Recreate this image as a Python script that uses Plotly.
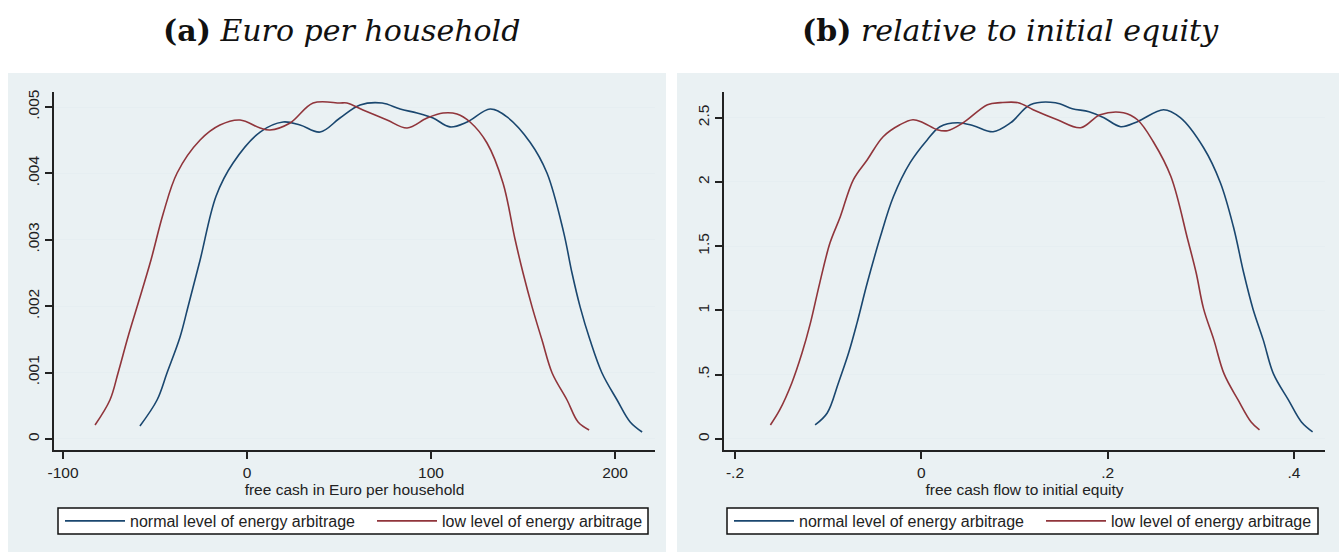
import plotly.graph_objects as go

# ---------------- data ----------------
# Panel (a): Euro per household
a_normal_x = [-58.2, -48.9, -43.5, -36.4, -32.1, -25.5, -16.8, -7.6, 7.1, 19.6, 28.8, 39.7,
              50.5, 61.4, 73.4, 83.2, 92.4, 101.1, 110.3, 119.6, 132.1, 141.3, 153.8, 163.0,
              172.0, 176.6, 181.0, 186.4, 192.9, 201.1, 208.2, 214.7]
a_normal_y = [0.000196, 0.000587, 0.000994, 0.001536, 0.001988, 0.002696, 0.003660, 0.004157,
              0.004623, 0.004774, 0.004729, 0.004623, 0.004834, 0.005030, 0.005060, 0.004970,
              0.004910, 0.004834, 0.004700, 0.004774, 0.004970, 0.004850, 0.004470, 0.004006,
              0.003120, 0.002500, 0.001990, 0.001490, 0.000994, 0.000587, 0.000256, 0.000105]
a_low_x = [-82.6, -74.5, -70.1, -64.7, -59.8, -52.2, -45.5, -38.0, -25.5, -14.7, -3.8, 7.1,
           12.5, 23.4, 35.9, 50.5, 54.3, 63.0, 76.1, 87.0, 97.8, 106.5, 114.1, 121.2, 130.4,
           139.1, 145.7, 150.0, 154.9, 160.3, 165.8, 173.9, 179.9, 185.9]
a_low_y = [0.000210, 0.000587, 0.000994, 0.001536, 0.001988, 0.002696, 0.003400, 0.004006,
           0.004503, 0.004729, 0.004804, 0.004684, 0.004654, 0.004759, 0.005060, 0.005060,
           0.005060, 0.004955, 0.004804, 0.004684, 0.004834, 0.004910, 0.004895, 0.004774,
           0.004458, 0.003855, 0.003000, 0.002500, 0.001990, 0.001490, 0.000994, 0.000587,
           0.000256, 0.000136]

# Panel (b): relative to initial equity
b_normal_x = [-0.114, -0.101, -0.089, -0.078, -0.069, -0.058, -0.044, -0.030, -0.012, 0.0065,
              0.020, 0.039, 0.056, 0.077, 0.096, 0.117, 0.144, 0.162, 0.180, 0.196, 0.214,
              0.232, 0.260, 0.278, 0.303, 0.321, 0.335, 0.346, 0.356, 0.367, 0.378, 0.394,
              0.408, 0.420]
b_normal_y = [0.109, 0.202, 0.436, 0.670, 0.903, 1.215, 1.573, 1.885, 2.150, 2.329, 2.430,
              2.461, 2.438, 2.391, 2.461, 2.601, 2.617, 2.570, 2.547, 2.500, 2.430, 2.469,
              2.562, 2.500, 2.266, 1.994, 1.651, 1.293, 1.012, 0.771, 0.506, 0.304, 0.132,
              0.055]
b_low_x = [-0.162, -0.152, -0.139, -0.128, -0.119, -0.109, -0.098, -0.087, -0.073, -0.058,
           -0.041, -0.023, -0.009, 0.002, 0.017, 0.028, 0.045, 0.071, 0.085, 0.104, 0.120,
           0.146, 0.171, 0.192, 0.217, 0.232, 0.249, 0.268, 0.286, 0.295, 0.303, 0.314,
           0.325, 0.340, 0.354, 0.363]
b_low_y = [0.109, 0.226, 0.436, 0.670, 0.903, 1.215, 1.526, 1.729, 2.017, 2.173, 2.352,
           2.445, 2.484, 2.461, 2.407, 2.399, 2.461, 2.601, 2.617, 2.617, 2.562, 2.484,
           2.422, 2.523, 2.539, 2.484, 2.313, 2.040, 1.550, 1.293, 1.012, 0.771, 0.506,
           0.304, 0.132, 0.070]

series_names = ["normal level of energy arbitrage", "low level of energy arbitrage"]
a_xticks = [-100, 0, 100, 200]
a_xticklabels = ["-100", "0", "100", "200"]
a_yticks = [0, 0.001, 0.002, 0.003, 0.004, 0.005]
a_yticklabels = ["0", ".001", ".002", ".003", ".004", ".005"]
b_xticks = [-0.2, 0, 0.2, 0.4]
b_xticklabels = ["-.2", "0", ".2", ".4"]
b_yticks = [0, 0.5, 1, 1.5, 2, 2.5]
b_yticklabels = ["0", ".5", "1", "1.5", "2", "2.5"]
titles = ["<b>(a)</b> <i>Euro per household</i>", "<b>(b)</b> <i>relative to initial equity</i>"]
xtitles = ["free cash in Euro per household", "free cash flow to initial equity"]

# ---------------- styling ----------------
W, H = 1339, 552
NAVY = "#1a476f"
MAROON = "#90353b"
BG = "#eaf1f3"
GRID = "#e6eef1"
AX = "#222222"

def px(x):
    return x / W

def py(y):
    return (H - y) / H

fig = go.Figure()

line_w = 1.6
sm = 1.0
fig.add_trace(go.Scatter(x=a_normal_x, y=a_normal_y, mode="lines", name=series_names[0],
                         line=dict(color=NAVY, width=line_w, shape="spline", smoothing=sm),
                         xaxis="x", yaxis="y", legend="legend"))
fig.add_trace(go.Scatter(x=a_low_x, y=a_low_y, mode="lines", name=series_names[1],
                         line=dict(color=MAROON, width=line_w, shape="spline", smoothing=sm),
                         xaxis="x", yaxis="y", legend="legend"))
fig.add_trace(go.Scatter(x=b_normal_x, y=b_normal_y, mode="lines", name=series_names[0],
                         line=dict(color=NAVY, width=line_w, shape="spline", smoothing=sm),
                         xaxis="x2", yaxis="y2", legend="legend2"))
fig.add_trace(go.Scatter(x=b_low_x, y=b_low_y, mode="lines", name=series_names[1],
                         line=dict(color=MAROON, width=line_w, shape="spline", smoothing=sm),
                         xaxis="x2", yaxis="y2", legend="legend2"))

tick_font = dict(family="Liberation Sans, Arial, sans-serif", size=15.5, color="#222222")
title_ax_font = dict(family="Liberation Sans, Arial, sans-serif", size=15.5, color="#222222")
ydom = [py(450), py(92)]

def xaxis(domain, rng, tv, tt, title, anchor):
    return dict(domain=domain, range=rng, tickvals=tv, ticktext=tt, showgrid=False,
                zeroline=False, showline=True, linecolor=AX, linewidth=2,
                ticks="outside", ticklen=7, tickwidth=1.5, tickcolor=AX,
                tickfont=tick_font, anchor=anchor,
                title=dict(text=title, font=title_ax_font, standoff=0))

def yaxis(rng, tv, tt, anchor):
    return dict(domain=ydom, range=rng, tickvals=tv, ticktext=tt, showgrid=True,
                gridcolor=GRID, gridwidth=1.2, zeroline=False, showline=True,
                linecolor=AX, linewidth=2, ticks="outside", ticklen=7, tickwidth=1.5,
                tickcolor=AX, tickfont=tick_font, tickangle=-90, anchor=anchor)

layout = dict(
    width=W, height=H, margin=dict(l=0, r=0, t=0, b=0, autoexpand=False),
    paper_bgcolor="white", plot_bgcolor="white", showlegend=True,
    xaxis=xaxis([px(54), px(655)], [-104.9, 221.7], a_xticks, a_xticklabels, xtitles[0], "y"),
    yaxis=yaxis([-0.000166, 0.005226], a_yticks, a_yticklabels, "x"),
    xaxis2=xaxis([px(724), px(1325)], [-0.2118, 0.4333], b_xticks, b_xticklabels, xtitles[1], "y2"),
    yaxis2=yaxis([-0.086, 2.70], b_yticks, b_yticklabels, "x2"),
)

legend_font = dict(family="Liberation Sans, Arial, sans-serif", size=16, color="#222222")
layout["legend"] = dict(orientation="h", x=px(60), y=py(521), xanchor="left", yanchor="middle",
                        bgcolor="rgba(0,0,0,0)", borderwidth=0, font=legend_font,
                        entrywidth=237, entrywidthmode="pixels", itemwidth=60)
layout["legend2"] = dict(orientation="h", x=px(729), y=py(521), xanchor="left", yanchor="middle",
                         bgcolor="rgba(0,0,0,0)", borderwidth=0, font=legend_font,
                         entrywidth=237, entrywidthmode="pixels", itemwidth=60)

shapes = []
# grey graph regions
for x0, x1 in [(8, 666), (677, 1339)]:
    shapes.append(dict(type="rect", xref="paper", yref="paper", x0=px(x0), x1=px(x1),
                       y0=py(552), y1=py(73), fillcolor=BG, line=dict(width=0), layer="below"))
# legend boxes
for x0, x1 in [(58, 648), (727, 1318)]:
    shapes.append(dict(type="rect", xref="paper", yref="paper", x0=px(x0), x1=px(x1),
                       y0=py(534), y1=py(508), fillcolor="white",
                       line=dict(color="#111111", width=1.5), layer="below"))
layout["shapes"] = shapes

title_font = dict(family="DejaVu Serif, Liberation Serif, serif", size=30, color="#111111")
layout["annotations"] = [
    dict(text=titles[0], x=px(341), y=py(30), xref="paper", yref="paper",
         showarrow=False, font=title_font, xanchor="center", yanchor="middle"),
    dict(text=titles[1], x=px(1011), y=py(30), xref="paper", yref="paper",
         showarrow=False, font=title_font, xanchor="center", yanchor="middle"),
]

fig.update_layout(**layout)
fig.write_html("out.html")
